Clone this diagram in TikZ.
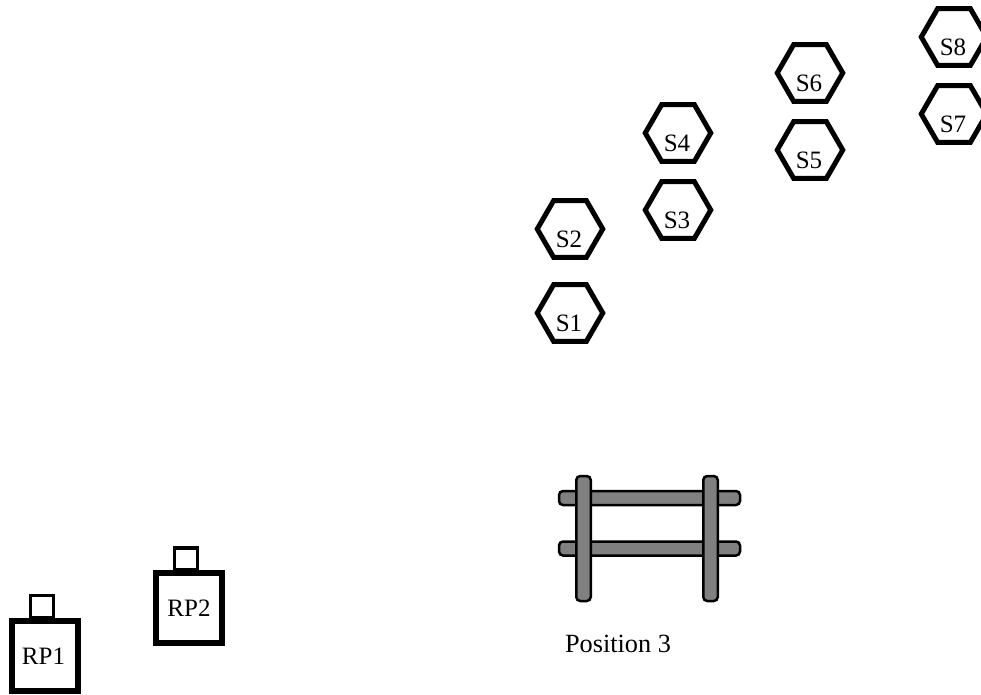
\documentclass[tikz,border=0pt]{standalone}
\usepackage{fontspec}
\setmainfont{Liberation Serif}
\usetikzlibrary{shapes.geometric}
\definecolor{fencegray}{HTML}{808080}
\tikzset{
  hexa/.style={regular polygon,regular polygon sides=6,draw=black,line width=5pt,minimum size=65.5pt,inner sep=0pt,outer sep=0pt,miter limit=10},
  hexlab/.style={font=\fontsize{25pt}{26pt}\selectfont,inner sep=0pt,xshift=-1pt,yshift=-10pt},
  rpbox/.style={draw=black,line width=6pt,fill=white,minimum width=66pt,minimum height=70pt,inner sep=0pt,outer sep=0pt,font=\fontsize{25pt}{26pt}\selectfont},
  rptop/.style={draw=black,line width=3.5pt,minimum width=23pt,minimum height=22pt,inner sep=0pt,outer sep=0pt},
  rail/.style={draw=black,fill=fencegray,line width=2.5pt,rounded corners=4pt,inner sep=0pt,outer sep=0pt},
}
\begin{document}
\begin{tikzpicture}[x=1pt,y=-1pt]
\useasboundingbox (0,0) rectangle (981,694);
\node[hexa,label={[hexlab]center:S1}] (s1) at (570,313) {};
\node[hexa,label={[hexlab]center:S2}] (s2) at (570,229) {};
\node[hexa,label={[hexlab]center:S3}] (s3) at (678,210) {};
\node[hexa,label={[hexlab]center:S4}] (s4) at (678,133) {};
\node[hexa,label={[hexlab]center:S5}] (s5) at (810,150) {};
\node[hexa,label={[hexlab]center:S6}] (s6) at (810,73) {};
\node[hexa,label={[hexlab]center:S7}] (s7) at (954,114) {};
\node[hexa,label={[hexlab]center:S8}] (s8) at (954,37) {};
% fence
\node[rail,minimum width=181pt,minimum height=14pt] (h1) at (649.5,498) {};
\node[rail,minimum width=181pt,minimum height=14pt] (h2) at (649.5,548.5) {};
\node[rail,minimum width=14.5pt,minimum height=125pt] (v1) at (583.5,538.5) {};
\node[rail,minimum width=14.5pt,minimum height=125pt] (v2) at (710.5,538.5) {};
\node[font=\fontsize{26.3pt}{27pt}\selectfont,inner sep=0pt] (pos) at (618,644) {Position 3};
% robots
\node[rptop] (t1) at (42,606.5) {};
\node[rptop] (t2) at (186,559) {};
\node[rpbox] (rp1) at (45,656) {\kern-3pt RP1};
\node[rpbox] (rp2) at (189,608) {RP2};
\end{tikzpicture}
\end{document}
